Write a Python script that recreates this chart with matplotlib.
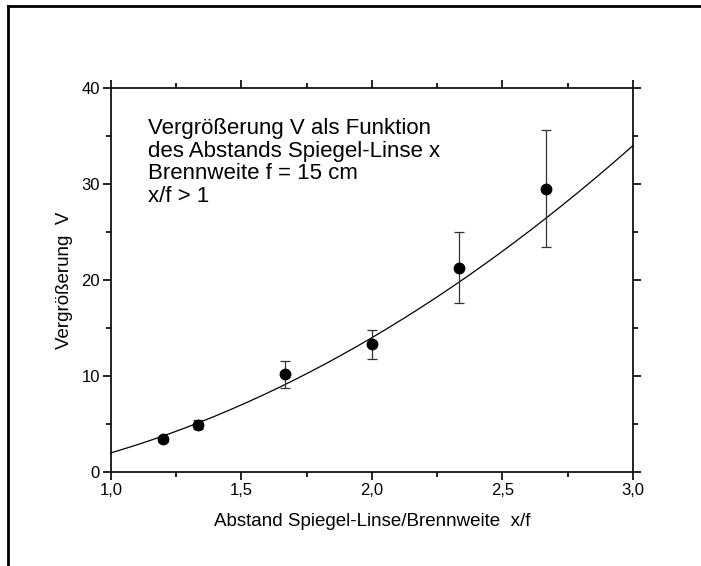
import numpy as np
import matplotlib.pyplot as plt
from matplotlib.lines import Line2D
from matplotlib.ticker import MultipleLocator, FuncFormatter

plt.rcParams['font.family'] = ['Liberation Sans', 'DejaVu Sans']

# Messwerte
x_f = [1.2, 4 / 3, 5 / 3, 2.0, 7 / 3, 8 / 3]
vergr = [3.4, 4.95, 10.2, 13.3, 21.3, 29.5]
fehler = [0.3, 0.5, 1.4, 1.5, 3.7, 6.1]

# Ausgleichskurve (Polynom, hoechste Potenz zuerst)
fit_koeff = [4.0, 0.0, -2.0]

fig = plt.figure(figsize=(7.01, 5.66), dpi=100)
ax = fig.add_axes([0.1583, 0.166, 0.7447, 0.6785])

xs = np.linspace(1.0, 3.0, 200)
ax.plot(xs, np.polyval(fit_koeff, xs), color='black', lw=0.9)
ax.errorbar(x_f, vergr, yerr=fehler, fmt='o', color='black', ms=7.5,
            ecolor='#333333', elinewidth=0.9, capsize=3.5, capthick=0.9)

ax.set_xlim(1.0, 3.0)
ax.set_ylim(0, 40)
ax.xaxis.set_major_locator(MultipleLocator(0.5))
ax.xaxis.set_minor_locator(MultipleLocator(0.25))
ax.yaxis.set_major_locator(MultipleLocator(10))
ax.yaxis.set_minor_locator(MultipleLocator(5))
ax.xaxis.set_major_formatter(FuncFormatter(lambda v, p: f"{v:.1f}".replace('.', ',')))

ax.tick_params(which='both', direction='out', top=True, right=True,
               labeltop=False, labelright=False, width=1.2, labelsize=12, pad=2)
ax.tick_params(which='major', length=6)
ax.tick_params(which='minor', length=3.5)
for s in ax.spines.values():
    s.set_linewidth(1.2)

ax.set_xlabel("Abstand Spiegel-Linse/Brennweite  x/f", fontsize=13.5, labelpad=11)
ax.set_ylabel("Vergrößerung  V", fontsize=13.5, labelpad=6)

ax.text(0.07, 0.922,
        "Vergrößerung V als Funktion\ndes Abstands Spiegel-Linse x\nBrennweite f = 15 cm\nx/f > 1",
        transform=ax.transAxes, ha='left', va='top', fontsize=16, linespacing=1.1)

# Rahmen
fig.add_artist(Line2D([8 / 701, 8 / 701], [0, 1 - 6 / 566], color='black', lw=2, transform=fig.transFigure))
fig.add_artist(Line2D([8 / 701, 1], [1 - 6 / 566, 1 - 6 / 566], color='black', lw=2, transform=fig.transFigure))

fig.savefig('out.png', dpi=100)
